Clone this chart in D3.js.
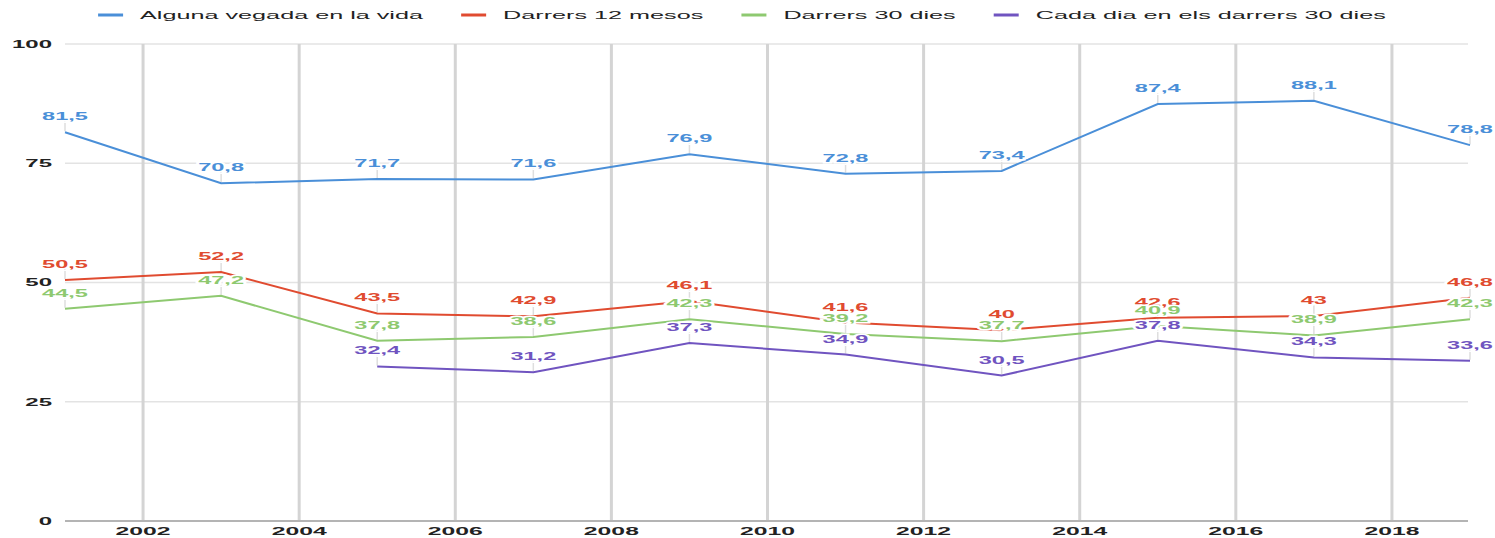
<!DOCTYPE html>
<html lang="ca">
  <head>
    <meta charset="UTF-8" />
    <title>Consum al llarg dels anys</title>
    <script src="https://d3js.org/d3.v7.min.js"></script>
    <style>
      body { margin: 0; background: #fff; }
      text { font-family: "Liberation Sans", Arial, sans-serif; }
    </style>
  </head>
  <body>
    <svg width="1495" height="538"></svg>
    <script>
      // dades
      const years = [2001, 2003, 2005, 2007, 2009, 2011, 2013, 2015, 2017, 2019];
      const seriesNames = [
        "Alguna vegada en la vida",
        "Darrers 12 mesos",
        "Darrers 30 dies",
        "Cada dia en els darrers 30 dies",
      ];
      const algunaVegada = [81.5, 70.8, 71.7, 71.6, 76.9, 72.8, 73.4, 87.4, 88.1, 78.8];
      const darrers12 = [50.5, 52.2, 43.5, 42.9, 46.1, 41.6, 40, 42.6, 43, 46.8];
      const darrers30 = [44.5, 47.2, 37.8, 38.6, 42.3, 39.2, 37.7, 40.9, 38.9, 42.3];
      const cadaDia = [null, null, 32.4, 31.2, 37.3, 34.9, 30.5, 37.8, 34.3, 33.6];
      const yTicks = [0, 25, 50, 75, 100];
      const xTicks = [2002, 2004, 2006, 2008, 2010, 2012, 2014, 2016, 2018];
      const colors = ["#4a8fd8", "#e04b30", "#8ec970", "#7054c0"];

      const allValues = [algunaVegada, darrers12, darrers30, cadaDia];

      const svg = d3.select("svg");
      const x = d3.scaleLinear().domain([2001, 2019]).range([65, 1470]);
      const y = d3.scaleLinear().domain([0, 100]).range([521, 44]);

      // text estirat horitzontalment com a la imatge
      function stretch(sel, sx) {
        sel.attr("transform", function () {
          const t = d3.select(this);
          const tx = +t.attr("x"), ty = +t.attr("y");
          return `translate(${tx},${ty}) scale(${sx},1) translate(${-tx},${-ty})`;
        });
      }

      // graella horitzontal
      svg.append("g")
        .selectAll("line")
        .data(yTicks.filter((d) => d > 0))
        .join("line")
        .attr("x1", 65).attr("x2", 1468)
        .attr("y1", (d) => y(d)).attr("y2", (d) => y(d))
        .attr("stroke", "#e3e3e3").attr("stroke-width", 1.5);

      // graella vertical
      svg.append("g")
        .selectAll("line")
        .data(xTicks)
        .join("line")
        .attr("x1", (d) => x(d)).attr("x2", (d) => x(d))
        .attr("y1", y(100)).attr("y2", y(0))
        .attr("stroke", "#d4d4d4").attr("stroke-width", 3);

      // línia base
      svg.append("line")
        .attr("x1", 65).attr("x2", 1468)
        .attr("y1", y(0)).attr("y2", y(0))
        .attr("stroke", "#b4b4b4").attr("stroke-width", 2);

      // etiquetes eix Y
      svg.append("g")
        .selectAll("text")
        .data(yTicks)
        .join("text")
        .attr("x", 52).attr("y", (d) => y(d) + 4)
        .attr("text-anchor", "end")
        .attr("font-size", 10).attr("font-weight", "bold").attr("fill", "#222")
        .text((d) => d)
        .call(stretch, 2.4);

      // etiquetes eix X
      svg.append("g")
        .selectAll("text")
        .data(xTicks)
        .join("text")
        .attr("x", (d) => x(d)).attr("y", 535)
        .attr("text-anchor", "middle")
        .attr("font-size", 11).attr("font-weight", "bold").attr("fill", "#222")
        .text((d) => d)
        .call(stretch, 2.25);

      const points = allValues.map((vals, s) =>
        years.map((yr, i) => ({ s, year: yr, value: vals[i] })).filter((d) => d.value != null)
      );

      // guies de les etiquetes
      svg.append("g")
        .selectAll("line")
        .data(points.flat())
        .join("line")
        .attr("x1", (d) => x(d.year)).attr("x2", (d) => x(d.year))
        .attr("y1", (d) => y(d.value) - 1).attr("y2", (d) => y(d.value) - 11)
        .attr("stroke", "#dedede").attr("stroke-width", 1.5);

      // línies
      const line = d3.line().x((d) => x(d.year)).y((d) => y(d.value));
      svg.append("g")
        .selectAll("path")
        .data(points)
        .join("path")
        .attr("d", line)
        .attr("fill", "none")
        .attr("stroke", (d, i) => colors[i])
        .attr("stroke-width", 2);

      // etiquetes de valors
      svg.append("g")
        .selectAll("text")
        .data(points.flat())
        .join("text")
        .attr("x", (d) => x(d.year)).attr("y", (d) => y(d.value) - 12)
        .attr("text-anchor", "middle")
        .attr("font-size", 11.5).attr("font-weight", "bold")
        .attr("fill", (d) => colors[d.s])
        .attr("stroke", "#fff").attr("stroke-width", 3)
        .attr("paint-order", "stroke")
        .text((d) => String(d.value).replace(".", ","))
        .call(stretch, 2.05);

      // llegenda
      const legend = svg.append("g");
      const sx = 2.4, swW = 25, gapText = 17, gapItem = 38;
      const items = seriesNames.map((name, i) => {
        const g = legend.append("g");
        g.append("line").attr("x1", 0).attr("x2", swW).attr("y1", 15).attr("y2", 15)
          .attr("stroke", colors[i]).attr("stroke-width", 3);
        const t = g.append("text").attr("x", swW + gapText).attr("y", 19)
          .attr("font-size", 10.5).attr("fill", "#222").text(name);
        const w = t.node().getComputedTextLength() * sx;
        t.call(stretch, sx);
        return { g, w: swW + gapText + w };
      });
      const total = d3.sum(items, (d) => d.w) + gapItem * (items.length - 1);
      let cx = 742 - total / 2;
      items.forEach((it) => {
        it.g.attr("transform", `translate(${cx},0)`);
        cx += it.w + gapItem;
      });
    </script>
  </body>
</html>
